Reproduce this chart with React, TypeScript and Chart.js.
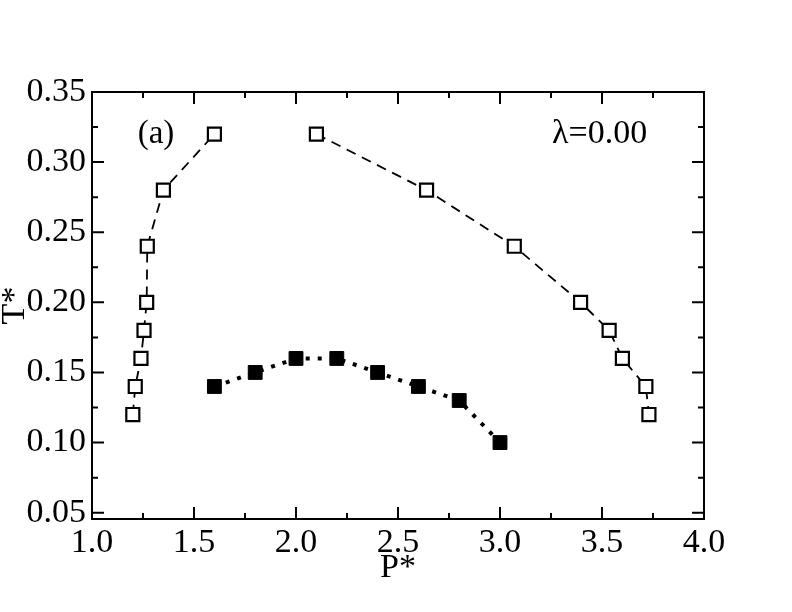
import React, { useEffect, useRef } from "react";
import { Chart, registerables } from "chart.js";
Chart.register(...registerables);

// Open squares, low-pressure branch
const leftP = [1.2, 1.212, 1.24, 1.255, 1.268, 1.271, 1.35, 1.6];
const leftT = [0.12, 0.14, 0.16, 0.18, 0.2, 0.24, 0.28, 0.32];
// Open squares, high-pressure branch
const rightP = [2.1, 2.64, 3.07, 3.395, 3.535, 3.6, 3.715, 3.73];
const rightT = [0.32, 0.28, 0.24, 0.2, 0.18, 0.16, 0.14, 0.12];
// Filled squares
const filledP = [1.6, 1.8, 2.0, 2.2, 2.4, 2.6, 2.8, 3.0];
const filledT = [0.14, 0.15, 0.16, 0.16, 0.15, 0.14, 0.13, 0.1];

const xTicks = [1.0, 1.5, 2.0, 2.5, 3.0, 3.5, 4.0];
const xMinor = [1.25, 1.75, 2.25, 2.75, 3.25, 3.75];
const yTicks = [0.05, 0.1, 0.15, 0.2, 0.25, 0.3, 0.35];
const yMinor = [0.075, 0.125, 0.175, 0.225, 0.275, 0.325];

const xTitle = "P*";
const yTitle = "T*";
const panelLabel = "(a)";
const lambdaLabel = "λ=0.00";

const FONT = "'Liberation Serif', 'DejaVu Serif', serif";

const toPts = (xs: number[], ys: number[]) => xs.map((x, i) => ({ x, y: ys[i] }));

const framePlugin = {
  id: "frameTicks",
  afterDraw(chart: any) {
    const { ctx, chartArea } = chart;
    const { left, right, top, bottom } = chartArea;
    const xs = chart.scales.x;
    const ys = chart.scales.y;
    ctx.save();
    ctx.strokeStyle = "#000";
    ctx.lineWidth = 2;
    ctx.lineCap = "butt";
    ctx.strokeRect(left, top, right - left, bottom - top);
    const major = 12;
    const minor = 6;
    ctx.beginPath();
    const xt = (v: number, len: number) => {
      const px = xs.getPixelForValue(v);
      ctx.moveTo(px, bottom);
      ctx.lineTo(px, bottom - len);
      ctx.moveTo(px, top);
      ctx.lineTo(px, top + len);
    };
    const yt = (v: number, len: number) => {
      const py = ys.getPixelForValue(v);
      ctx.moveTo(left, py);
      ctx.lineTo(left + len, py);
      ctx.moveTo(right, py);
      ctx.lineTo(right - len, py);
    };
    xTicks.forEach((v) => xt(v, major));
    xMinor.forEach((v) => xt(v, minor));
    yTicks.forEach((v) => yt(v, major));
    yMinor.forEach((v) => yt(v, minor));
    ctx.stroke();

    ctx.fillStyle = "#000";
    ctx.font = `34px ${FONT}`;
    ctx.textAlign = "center";
    ctx.textBaseline = "alphabetic";
    ctx.fillText(xTitle, (left + right) / 2, 577);
    ctx.save();
    ctx.translate(24, (top + bottom) / 2);
    ctx.rotate(-Math.PI / 2);
    ctx.fillText(yTitle, 0, 0);
    ctx.restore();

    ctx.font = `33px ${FONT}`;
    ctx.textAlign = "center";
    ctx.fillText(panelLabel, left + 64, top + 51);
    ctx.font = `34px ${FONT}`;
    ctx.textAlign = "left";
    ctx.fillText(lambdaLabel, left + 460, top + 51);
    ctx.restore();
  },
};

export default function App() {
  const ref = useRef<HTMLCanvasElement | null>(null);
  useEffect(() => {
    if (!ref.current) return;
    const chart = new Chart(ref.current, {
      type: "line",
      data: {
        datasets: [
          {
            data: toPts(leftP, leftT),
            borderColor: "#000",
            borderWidth: 1.8,
            borderDash: [10, 7],
            pointStyle: "rect",
            pointRadius: 9.2,
            pointBorderWidth: 2.2,
            pointBorderColor: "#000",
            pointBackgroundColor: "#fff",
            fill: false,
            tension: 0,
          },
          {
            data: toPts(rightP, rightT),
            borderColor: "#000",
            borderWidth: 1.8,
            borderDash: [10, 7],
            pointStyle: "rect",
            pointRadius: 9.2,
            pointBorderWidth: 2.2,
            pointBorderColor: "#000",
            pointBackgroundColor: "#fff",
            fill: false,
            tension: 0,
          },
          {
            data: toPts(filledP, filledT),
            borderColor: "#000",
            borderWidth: 4,
            borderDash: [4, 8],
            pointStyle: "rect",
            pointRadius: 9.8,
            pointBorderWidth: 1,
            pointBorderColor: "#000",
            pointBackgroundColor: "#000",
            fill: false,
            tension: 0,
          },
        ],
      },
      options: {
        responsive: false,
        animation: false,
        devicePixelRatio: 1,
        layout: { padding: { top: 92, right: 88, left: 0, bottom: 0 } },
        plugins: { legend: { display: false }, tooltip: { enabled: false } },
        scales: {
          x: {
            type: "linear",
            min: 1.0,
            max: 4.0,
            afterBuildTicks: (s: any) => {
              s.ticks = xTicks.map((v) => ({ value: v }));
            },
            afterFit: (s: any) => {
              s.height = 93;
            },
            grid: { display: false, drawTicks: false },
            border: { display: false },
            ticks: {
              autoSkip: false,
              maxRotation: 0,
              padding: 4,
              color: "#000",
              font: { family: FONT, size: 34 },
              callback: (v: any) => Number(v).toFixed(1),
            },
          },
          y: {
            type: "linear",
            min: 0.0455,
            max: 0.35,
            afterBuildTicks: (s: any) => {
              s.ticks = yTicks.map((v) => ({ value: v }));
            },
            afterFit: (s: any) => {
              s.width = 92;
            },
            grid: { display: false, drawTicks: false },
            border: { display: false },
            ticks: {
              autoSkip: false,
              padding: 6,
              color: "#000",
              font: { family: FONT, size: 34 },
              callback: (v: any) => Number(v).toFixed(2),
            },
          },
        },
      },
      plugins: [framePlugin],
    } as any);
    return () => chart.destroy();
  }, []);
  return (
    <div style={{ position: "absolute", left: 0, top: 0, width: 792, height: 612, background: "#fff" }}>
      <canvas ref={ref} width={792} height={612} style={{ width: 792, height: 612, display: "block" }} />
    </div>
  );
}
